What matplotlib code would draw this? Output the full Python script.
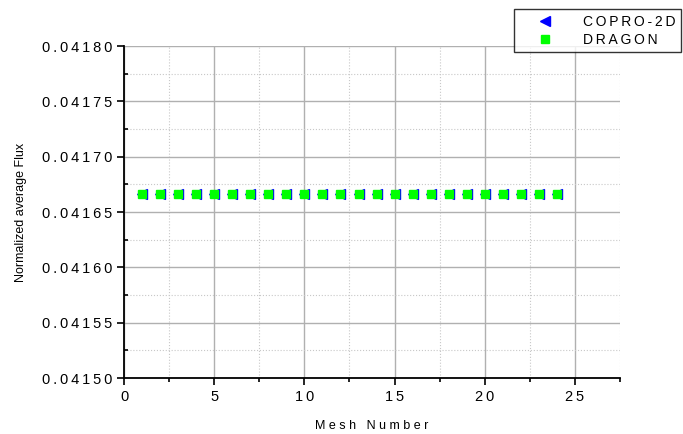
import matplotlib.pyplot as plt
from matplotlib.ticker import MultipleLocator, FuncFormatter

plt.rcParams['font.family'] = ['Liberation Sans', 'DejaVu Sans']

# 資料
mesh = list(range(1, 25))
copro_flux = [0.0416667] * 24
dragon_flux = [0.0416667] * 24

SP = '\u2009'  # 字距


def spaced(s):
    return SP.join(s)


fig = plt.figure(figsize=(6.83, 4.34), dpi=100)
ax = fig.add_axes([0.1816, 0.129, 0.7262, 0.765])

ax.plot(mesh, copro_flux, linestyle='none', marker='<', color='#0000ff',
        markersize=7.5, label=spaced('COPRO-2D'), zorder=3)
ax.plot(mesh, dragon_flux, linestyle='none', marker='s', color='#00ff00',
        markersize=6, label=spaced('DRAGON'), zorder=4)

ax.set_xlim(0, 27.5)
ax.set_ylim(0.04150, 0.04180)
ax.xaxis.set_major_locator(MultipleLocator(5))
ax.xaxis.set_minor_locator(MultipleLocator(2.5))
ax.yaxis.set_major_locator(MultipleLocator(0.00005))
ax.yaxis.set_minor_locator(MultipleLocator(0.000025))
ax.yaxis.set_major_formatter(FuncFormatter(lambda v, p: spaced(f'{v:.5f}')))
ax.xaxis.set_major_formatter(FuncFormatter(lambda v, p: spaced(f'{v:.0f}')))

# 格線
ax.grid(which='major', color='#b0b0b0', linestyle='-', linewidth=1.0)
ax.grid(which='minor', color='#c8c8c8', linestyle=':', linewidth=0.8)
ax.set_axisbelow(True)

for side in ['top', 'right']:
    ax.spines[side].set_visible(False)
for side in ['left', 'bottom']:
    ax.spines[side].set_linewidth(1.3)

ax.tick_params(axis='both', which='major', direction='out', length=5, width=1.2,
               labelsize=10.5)
ax.tick_params(axis='x', which='minor', direction='out', length=3, width=1.2)
ax.tick_params(axis='y', which='minor', direction='in', length=3, width=1.2)

ax.set_xlabel('M e s h   N u m b e r', fontsize=9, labelpad=12)
ax.set_ylabel('Normalized average Flux', fontsize=9, labelpad=11)

leg = fig.legend(loc='upper left', bbox_to_anchor=(0.7525, 0.979), fontsize=10,
                 frameon=True, fancybox=False, edgecolor='black',
                 handletextpad=1.0, borderpad=0.4, labelspacing=0.3,
                 handlelength=3.6, borderaxespad=0)
leg.get_frame().set_linewidth(1.0)

fig.savefig('out.png', dpi=100)
